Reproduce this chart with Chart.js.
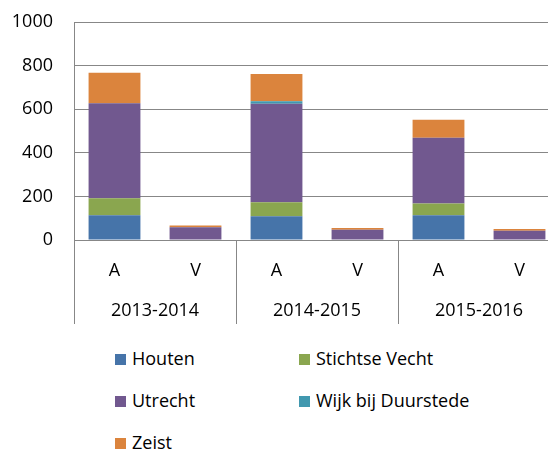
<!DOCTYPE html>
<html lang="nl">
  <head>
    <meta charset="UTF-8" />
    <title>Leerlingen per gemeente</title>
    <style>
      html,
      body {
        margin: 0;
        background: #fff;
        overflow: hidden;
      }
      #wrap {
        position: relative;
        width: 562px;
        height: 330px;
      }
      #legend {
        position: absolute;
        left: 115px;
        top: 346px;
        width: 380px;
        display: grid;
        grid-template-columns: 184px 196px;
        row-gap: 18px;
        font-family: "Open Sans", sans-serif;
        font-size: 18px;
        color: #000;
      }
      #legend span.box {
        display: inline-block;
        width: 11px;
        height: 11px;
        margin-right: 6px;
      }
    </style>
  </head>
  <body>
    <div id="wrap"><canvas id="chart"></canvas></div>
    <div id="legend"></div>

    <script src="https://cdn.jsdelivr.net/npm/chart.js@4/dist/chart.umd.min.js"></script>
    <script>
      // categories
      const groups = ["2013-2014", "2014-2015", "2015-2016"];
      const kinds = ["A", "V"];
      const labels = ["A", "V", "A", "V", "A", "V"];

      // series (A / V per school year)
      const houten = [113, 0, 109, 2, 113, 0];
      const stichtseVecht = [78, 0, 64, 0, 54, 0];
      const utrecht = [436, 58, 452, 45, 302, 43];
      const wijkBijDuurstede = [0, 1, 11, 0, 0, 0];
      const zeist = [140, 8, 125, 8, 83, 7];

      const seriesNames = ["Houten", "Stichtse Vecht", "Utrecht", "Wijk bij Duurstede", "Zeist"];
      const seriesData = [houten, stichtseVecht, utrecht, wijkBijDuurstede, zeist];
      const colors = ["#4674a9", "#8aa64f", "#71588f", "#4198af", "#db843d"];

      const yTicks = [0, 200, 400, 600, 800, 1000];

      const font = { family: "'Open Sans', sans-serif", size: 18 };
      const gridColor = "#878787";

      // group dividers below the x axis, like Excel's multi level categories
      const dividers = {
        id: "dividers",
        afterDraw(chart) {
          const x = chart.scales.x;
          const x2 = chart.scales.x2;
          const half = (x.getPixelForValue(1) - x.getPixelForValue(0)) / 2;
          const ctx = chart.ctx;
          ctx.save();
          ctx.strokeStyle = gridColor;
          ctx.lineWidth = 1;
          for (let g = 0; g <= groups.length; g++) {
            const px = Math.round(x.getPixelForValue(g * kinds.length) - half) + 0.5;
            ctx.beginPath();
            ctx.moveTo(px, chart.chartArea.bottom);
            ctx.lineTo(px, x2.bottom - 1);
            ctx.stroke();
          }
          ctx.restore();
        },
      };

      const chart = new Chart("chart", {
        type: "bar",
        data: {
          labels: labels,
          datasets: seriesNames.map((name, i) => ({
            label: name,
            data: seriesData[i],
            backgroundColor: colors[i],
            borderWidth: 0,
            barPercentage: 0.8,
            categoryPercentage: 0.8,
          })),
        },
        options: {
          responsive: true,
          maintainAspectRatio: false,
          animation: false,
          layout: { padding: { top: 22, right: 2, bottom: 5, left: 0 } },
          plugins: {
            legend: { display: false },
            tooltip: { enabled: false },
          },
          scales: {
            x: {
              stacked: true,
              weight: 0,
              grid: { display: false },
              border: { display: true, color: gridColor, width: 1 },
              ticks: { font: font, color: "#000", padding: 12, maxRotation: 0 },
              afterFit: (s) => {
                s.height = 50;
              },
            },
            x2: {
              type: "category",
              position: "bottom",
              labels: groups,
              weight: 1,
              offset: true,
              grid: { display: false },
              border: { display: false },
              ticks: { font: font, color: "#000", padding: 2, maxRotation: 0 },
              afterFit: (s) => {
                s.height = 35;
              },
            },
            y: {
              stacked: true,
              min: 0,
              max: 1000,
              afterBuildTicks: (s) => {
                s.ticks = yTicks.map((v) => ({ value: v }));
              },
              grid: { color: gridColor, lineWidth: 1, drawTicks: false },
              border: { display: true, color: gridColor, width: 1 },
              ticks: {
                font: font,
                color: "#000",
                padding: 21,
                callback: (v) => String(v),
              },
              afterFit: (s) => {
                s.width = 74;
                s.paddingTop = 0;
                s.paddingBottom = 0;
              },
            },
          },
        },
        plugins: [dividers],
      });

      // legend in two columns, built from the datasets
      const legend = document.getElementById("legend");
      chart.data.datasets.forEach((ds) => {
        const item = document.createElement("div");
        item.innerHTML =
          '<span class="box" style="background:' + ds.backgroundColor + '"></span>' + ds.label;
        legend.appendChild(item);
      });
    </script>
  </body>
</html>
